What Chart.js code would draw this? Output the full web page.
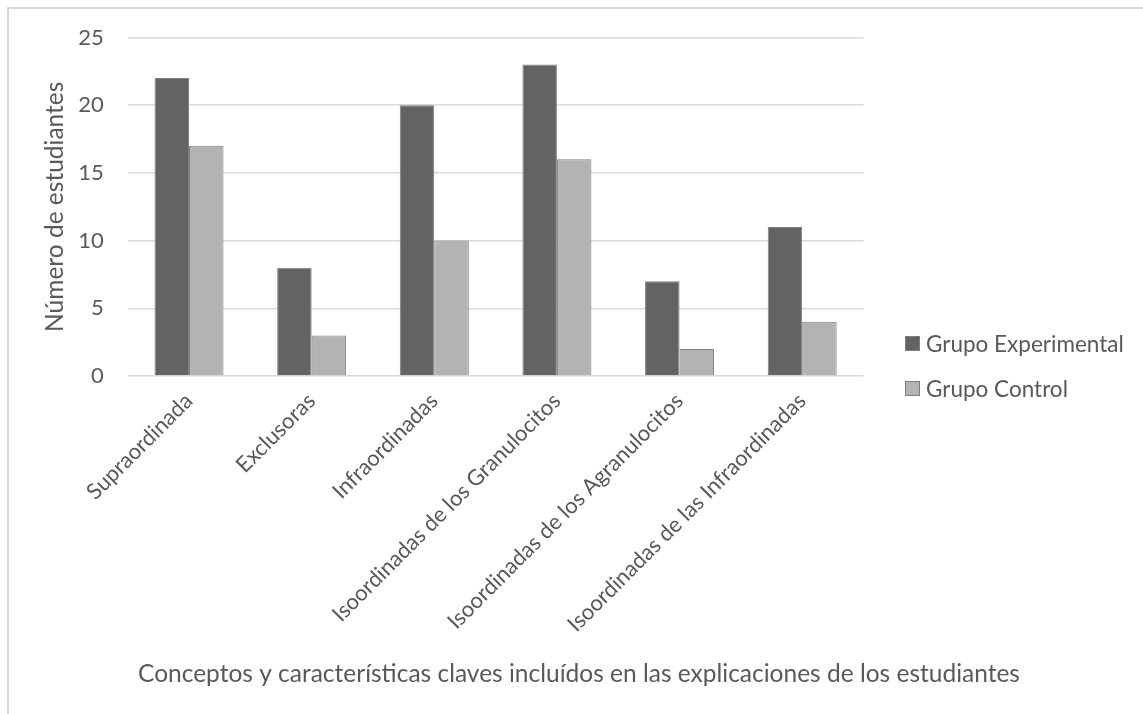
<!DOCTYPE html>
<html lang="es">
<head>
<meta charset="utf-8">
<title>Conceptos y características claves</title>
<script src="https://cdn.jsdelivr.net/npm/chart.js@4.4.1/dist/chart.umd.min.js"></script>
<style>
  html, body { margin: 0; padding: 0; background: #ffffff; overflow: hidden; }
  body { width: 1143px; height: 714px; position: relative; font-family: Lato, "Open Sans", sans-serif; }
  #frame { position: absolute; left: 7px; top: 7px; width: 1300px; height: 900px;
           border: 2px solid #d9d9d9; box-sizing: border-box; }
  #wrap { position: absolute; left: 0; top: 0; width: 1143px; height: 714px; }
  #legend { position: absolute; left: 905px; top: 329px; margin: 0; padding: 0; list-style: none; }
  #legend li { display: flex; align-items: center; height: 28px; margin-bottom: 17px;
               font-size: 22.5px; color: #595959; white-space: nowrap; }
  #legend .sw { width: 13px; height: 13px; border: 1px solid #7f7f7f; margin-right: 6px; flex: none; }
</style>
</head>
<body>
<div id="frame"></div>
<div id="wrap"><canvas id="chart" width="1143" height="714"></canvas></div>
<ul id="legend"></ul>
<script>
// Categories along the x axis
const categories = [
  'Supraordinada',
  'Exclusoras',
  'Infraordinadas',
  'Isoordinadas de los Granulocitos',
  'Isoordinadas de los Agranulocitos',
  'Isoordinadas de las Infraordinadas'
];

// Number of students per group
const grupoExperimental = [22, 8, 20, 23, 7, 11];
const grupoControl = [17, 3, 10, 16, 2, 4];

// Y-axis ticks
const yTicks = [0, 5, 10, 15, 20, 25];

const seriesNames = ['Grupo Experimental', 'Grupo Control'];
const xTitle = 'Conceptos y características claves incluídos en las explicaciones de los estudiantes';
const yTitle = 'Número de estudiantes';

const TEXT = '#595959';
const FILLS = ['#636363', '#b3b3b3'];
const EDGE = '#7f7f7f';
const FONT = 'Lato';
const LEFT_PAD = 15;

Chart.defaults.font.family = FONT;
Chart.defaults.color = TEXT;

// Horizontal axis caption, centred across the whole figure width
const xCaption = {
  id: 'xCaption',
  afterDraw(chart, args, opts) {
    const ctx = chart.ctx;
    ctx.save();
    ctx.font = `${opts.size}px ${FONT}`;
    ctx.fillStyle = TEXT;
    ctx.textAlign = 'center';
    ctx.textBaseline = 'middle';
    ctx.fillText(opts.text, (LEFT_PAD + chart.width) / 2, chart.height - opts.bottom);
    ctx.restore();
  }
};

const chart = new Chart(document.getElementById('chart'), {
  type: 'bar',
  data: {
    labels: categories,
    datasets: [
      { label: seriesNames[0], data: grupoExperimental, backgroundColor: FILLS[0],
        borderColor: EDGE, borderWidth: 1, categoryPercentage: 0.5625, barPercentage: 1 },
      { label: seriesNames[1], data: grupoControl, backgroundColor: FILLS[1],
        borderColor: EDGE, borderWidth: 1, categoryPercentage: 0.5625, barPercentage: 1 }
    ]
  },
  plugins: [xCaption],
  options: {
    responsive: false,
    animation: false,
    layout: { padding: { left: LEFT_PAD, right: 279.5, top: 37.5, bottom: 0 } },
    plugins: {
      legend: { display: false },
      tooltip: { enabled: false },
      title: { display: false },
      xCaption: { text: xTitle, size: 24.5, bottom: 40 }
    },
    scales: {
      x: {
        grid: { display: false },
        border: { display: false },
        ticks: {
          autoSkip: false,
          minRotation: 45,
          maxRotation: 45,
          padding: 4,
          color: TEXT,
          font: { size: 22 }
        },
        afterFit(scale) { scale.height = 338; }
      },
      y: {
        min: yTicks[0],
        max: yTicks[yTicks.length - 1],
        afterBuildTicks(scale) { scale.ticks = yTicks.map(v => ({ value: v })); },
        grid: { color: '#d9d9d9', lineWidth: 1.5, drawTicks: false },
        border: { display: false },
        ticks: { padding: 24, color: TEXT, font: { size: 22 } },
        title: {
          display: true,
          text: yTitle,
          color: TEXT,
          font: { size: 24.5, lineHeight: 1.2 },
          padding: { top: 25.3, bottom: 0 }
        },
        afterFit(scale) { scale.width = 112.7; }
      }
    }
  }
});

// Legend built from the chart's datasets
const legendEl = document.getElementById('legend');
chart.data.datasets.forEach(ds => {
  const li = document.createElement('li');
  const sw = document.createElement('span');
  sw.className = 'sw';
  sw.style.background = ds.backgroundColor;
  li.appendChild(sw);
  li.appendChild(document.createTextNode(ds.label));
  legendEl.appendChild(li);
});
</script>
</body>
</html>
